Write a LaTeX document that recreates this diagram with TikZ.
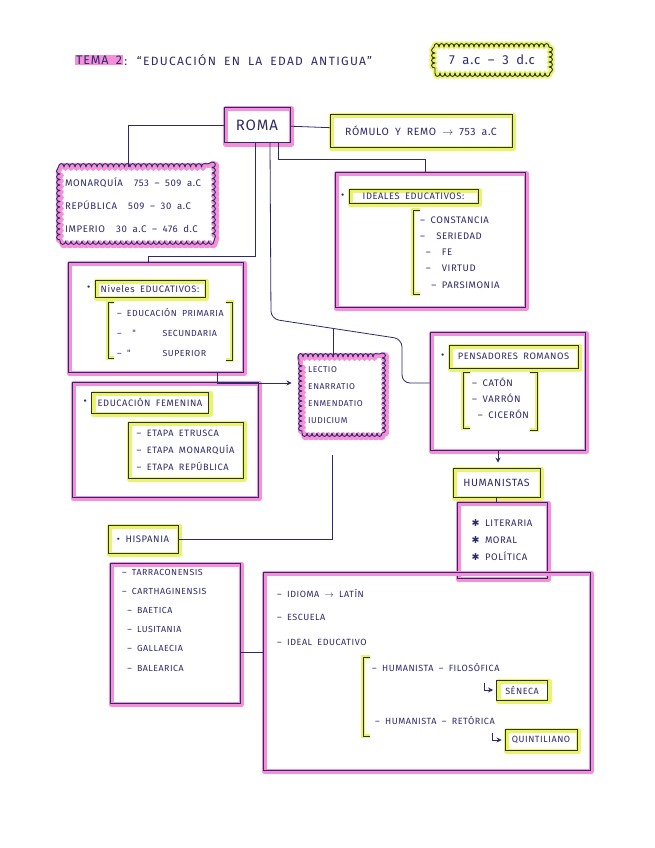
\documentclass[tikz,border=0pt]{standalone}
\usepackage{fontspec}
\setmainfont{Fira Sans}[LetterSpace=6,WordSpace=1.8]
\newfontfamily\symf{DejaVu Sans}
\usetikzlibrary{arrows.meta,positioning,calc,decorations.pathmorphing}
\definecolor{ink}{HTML}{2D2A6B}
\definecolor{hlpink}{HTML}{F590D8}
\definecolor{hlyellow}{HTML}{E9F36B}
\definecolor{olive}{HTML}{2F3324}
\tikzset{
  >={Stealth[length=5pt,width=5pt]},
  % cajas
  rosaglow/.style={preaction={draw=hlpink,line width=5pt,line join=round,
    transform canvas={shift={(1.5pt,-1.5pt)}}}},
  amarglow/.style={preaction={draw=hlyellow,line width=5pt,line join=round,
    transform canvas={shift={(1.5pt,-1pt)}}}},
  rosa/.style={draw=ink,line width=0.9pt,inner sep=0pt,text=ink,rosaglow,
    font=\fontsize{9.5}{17}\selectfont},
  amar/.style={draw=olive,line width=0.9pt,inner sep=2pt,text=ink,amarglow,
    font=\fontsize{9}{17}\selectfont},
  hdr/.style={amar,font=\fontsize{9.3}{11}\selectfont,
    label={[text=ink,inner sep=4pt]left:•}},
  nube/.style={rectangle,draw=ink,line width=0.9pt,line join=round,decorate,
    decoration={bumps,mirror,segment length=#1,amplitude=3.5pt}},
  % textos
  txt/.style={text=ink,inner sep=0pt,anchor=west,align=left,
    font=\fontsize{9}{17}\selectfont},
  % lineas
  lnk/.style={draw=ink,line width=0.8pt},
  corchete/.style={draw=olive,line width=0.9pt,
    preaction={draw=hlyellow,line width=4pt}},
}

\begin{document}
\begin{tikzpicture}[x=1pt,y=-1pt]
\useasboundingbox (0,0) rectangle (655,848);
\fill[white] (0,0) rectangle (655,848);
% titulo
  \node[fill=hlpink,text=ink,inner sep=1pt,anchor=west,
        font=\fontsize{12.5}{14}\selectfont] (tema) at (75,60) {TEMA 2};
  \node[txt,font=\fontsize{12}{14}\selectfont\addfontfeature{LetterSpace=11},
        right=1pt of tema] (titulo) {: ``EDUCACIÓN EN LA EDAD ANTIGUA''};
  \node[nube=10pt,draw=olive,preaction={draw=hlyellow,line width=5pt,line join=round},
        minimum width=114,minimum height=26,text=ink,
        font=\fontsize{13}{14}\selectfont] (fecha) at (492,60) {7 a.c -- 3 d.c};
% roma
  \node[rosa,minimum width=66,minimum height=35,
        font=\fontsize{15}{16}\selectfont] (roma) at (257,125) {ROMA};
  \node[amar,minimum width=182,minimum height=33,
        font=\fontsize{10.5}{12}\selectfont] (romulo) at (421,131)
        {RÓMULO Y REMO $\to$ 753 a.C};
  \node[nube=11pt,rosaglow,minimum width=152,minimum height=74] (periodos)
        at (136,204) {};
  \node[txt,font=\fontsize{9.6}{23}\selectfont] (pertxt) at (65,205)
        {MONARQUÍA \ 753 -- 509 a.C\\REPÚBLICA \ 509 -- 30 a.C\\IMPERIO \ 30 a.C -- 476 d.C};
% niveles
  \node[rosa,minimum width=175,minimum height=110] (niveles) at (155.5,317) {};
  \node[hdr,minimum width=110,minimum height=17] (nivhead) at (150,288.5)
        {Niveles EDUCATIVOS:};
  \node[txt,font=\fontsize{8.8}{20}\selectfont] (nivlist) at (117,333)
        {-- EDUCACIÓN PRIMARIA\\-- \ {\symf "}\hspace{3em}SECUNDARIA\\-- {\symf "}\hspace{3.6em}SUPERIOR};
  \draw[corchete] (114,302) -- (108,302) -- (108,358) -- (114,358);
  \draw[corchete] (226,302) -- (232,302) -- (232,360) -- (226,360);
% femenina
  \node[rosa,minimum width=186,minimum height=115] (femenina) at (165,439.5) {};
  \node[hdr,minimum width=117,minimum height=21] (femhead) at (150,402.5)
        {EDUCACIÓN FEMENINA};
  \node[amar,minimum width=115,minimum height=56,align=left,
        font=\fontsize{9.2}{17}\selectfont] (etapas) at (185.5,450)
        {-- ETAPA ETRUSCA\\-- ETAPA MONARQUÍA\\-- ETAPA REPÚBLICA};
% ideales
  \node[rosa,minimum width=190,minimum height=135] (ideales) at (430,239.5) {};
  \node[hdr,minimum width=129,minimum height=14] (idehead) at (413.5,196.5)
        {IDEALES EDUCATIVOS:};
  \node[txt,font=\fontsize{9.5}{16.2}\selectfont] (idelist) at (420,252.5)
        {-- CONSTANCIA\\-- \ SERIEDAD\\\ -- \ FE\\\ -- \ VIRTUD\\\ \ -- PARSIMONIA};
  \draw[corchete] (420,210) -- (413,210) -- (413,294) -- (420,294);
% lectio
  \node[nube=10pt,rosaglow,minimum width=80,minimum height=76] (lectio)
        at (342,395) {};
  \node[txt,font=\fontsize{8.5}{17}\selectfont] (lectxt) at (308,395)
        {LECTIO\\ENARRATIO\\ENMENDATIO\\IUDICIUM};
% pensadores
  \node[rosa,minimum width=155,minimum height=118] (pens) at (507.5,391) {};
  \node[hdr,minimum width=129,minimum height=23] (penshead) at (513.5,356.5)
        {PENSADORES ROMANOS};
  \node[txt,font=\fontsize{9.5}{16}\selectfont] (penslist) at (472,398)
        {-- CATÓN\\-- VARRÓN\\\ -- CICERÓN};
  \draw[corchete] (470,372) -- (463,372) -- (463,428) -- (470,428);
  \draw[corchete] (530,372) -- (537,372) -- (537,430) -- (530,430);
  \node[amar,minimum width=87,minimum height=29,
        font=\fontsize{10.5}{12}\selectfont] (hum) at (496.5,482.5) {HUMANISTAS};
  \node[rosa,minimum width=90,minimum height=76,align=left] (tipos)
        at (502,540) {{\symf ✱} LITERARIA\\{\symf ✱} MORAL\\{\symf ✱} POLÍTICA};
% hispania
  \node[amar,minimum width=70,minimum height=28,
        font=\fontsize{9.5}{11}\selectfont] (hisp) at (143,539) {• HISPANIA};
  \node[rosa,minimum width=130,minimum height=140] (prov) at (175,633) {};
  \node[txt,font=\fontsize{8.8}{19.2}\selectfont] (provlist) at (122,620)
        {-- TARRACONENSIS\\-- CARTHAGINENSIS\\\ -- BAETICA\\\ -- LUSITANIA\\\ -- GALLAECIA\\\ -- BALEARICA};
  \node[rosa,minimum width=327,minimum height=198] (cultura) at (426.5,671) {};
  \node[txt] (idioma) at (277,593) {-- IDIOMA $\to$ LATÍN};
  \node[txt] (escuela) at (277,617) {-- ESCUELA};
  \node[txt] (ideal) at (277,642) {-- IDEAL EDUCATIVO};
  \node[txt] (filos) at (372,667) {-- HUMANISTA -- FILOSÓFICA};
  \node[txt] (retor) at (375,720) {-- HUMANISTA -- RETÓRICA};
  \node[amar,minimum width=51,minimum height=20] (seneca) at (522,690) {SÉNECA};
  \node[amar,minimum width=72,minimum height=21] (quint) at (541,740) {QUINTILIANO};
  \draw[corchete] (370,657) -- (363,657) -- (363,736) -- (370,736);
% conexiones
  \draw[lnk] (roma) -- (romulo);
  \draw[lnk] (roma.west) -| ([xshift=-8pt]periodos.north);
  \draw[lnk] ([xshift=-2pt]roma.south) -- ++(0,113) -| ([xshift=-7.5pt]niveles.north);
  \draw[lnk] ([xshift=21pt]roma.south) -- ++(0,16) -| ([xshift=-5pt]ideales.north);
  \draw[lnk,rounded corners=8pt] ([xshift=13pt]roma.south) -- ++(1,176)
        -- coordinate[pos=0.48] (lc) ++(131,20) |- ([yshift=8pt]pens.west);
  \draw[lnk] (lc) -- (lc |- lectio.north);
  \draw[lnk,->,shorten >=10pt] ([xshift=62pt]niveles.south) |- ([yshift=12pt]lectio.west);
  \draw[lnk] (hisp.east) -| ([xshift=-10pt,yshift=-22pt]lectio.south);
  \draw[lnk,->,shorten >=5pt] ([xshift=-9.5pt]pens.south) -- ([xshift=-9.5pt]pens.south |- hum.north);
  \draw[lnk] (hum) -- (hum |- tipos.north);
  \draw[lnk] ([yshift=-19pt]prov.east) -- ([yshift=-19pt]prov.east -| cultura.west);
  \draw[lnk,->,shorten >=3pt] ([xshift=-12pt,yshift=7pt]seneca.west) |- (seneca.west);
  \draw[lnk,->,shorten >=3pt] ([xshift=-12pt,yshift=7pt]quint.west) |- (quint.west);
\end{tikzpicture}
\end{document}
